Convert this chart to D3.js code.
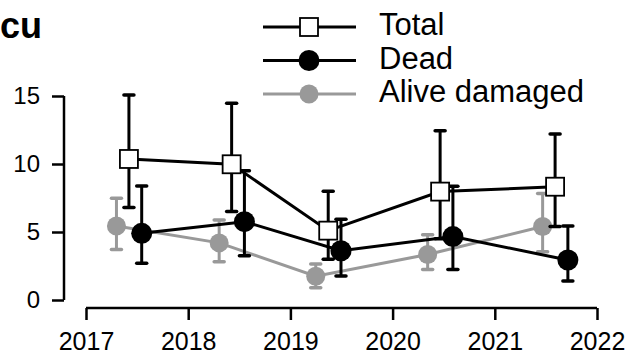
<!DOCTYPE html>
<html>
<head>
<meta charset="utf-8">
<script src="https://cdn.jsdelivr.net/npm/d3@7"></script>
<style>
  body { margin: 0; background: #fff; }
  svg { font-family: "Liberation Sans", Arial, sans-serif; }
</style>
</head>
<body>
<div class="plot"></div>
<script>
// survey dates (decimal year) and per-series dodge
let surveyDates = [2017.42, 2018.425, 2019.37, 2020.465, 2021.59];
let seriesNames = ["Total", "Dead", "Alive damaged"];
let dodge = [0, 0.125, -0.122];

let totalMean = [10.37, 9.98, 5.1, 7.97, 8.33];
let totalLow  = [6.8, 6.5, 3.0, 4.5, 5.4];
let totalHigh = [15.07, 14.46, 8.0, 12.45, 12.2];

let deadMean = [4.9, 5.76, 3.62, 4.66, 2.94];
let deadLow  = [2.7, 3.26, 1.76, 2.25, 1.4];
let deadHigh = [8.38, 9.5, 5.93, 8.36, 5.44];

let aliveMean = [5.44, 4.2, 1.75, 3.35, 5.4];
let aliveLow  = [3.72, 2.82, 0.9, 2.25, 3.55];
let aliveHigh = [7.48, 5.88, 2.65, 4.8, 7.84];

let xTicks = [2017, 2018, 2019, 2020, 2021, 2022];
let yTicks = [0, 5, 10, 15];

let width = 629, height = 359;
let grey = "#999999";

var xScale = d3.scaleLinear().domain([2017, 2022]).range([86, 597]),
    yScale = d3.scaleLinear().domain([0, 15]).range([300, 96]);

let svg = d3.select(".plot").append("svg")
    .attr("width", width)
    .attr("height", height);

function makeSeries(name, means, lows, highs, off, color, shape) {
    return {
        name: name, color: color, shape: shape,
        points: surveyDates.map((d, i) => ({x: d + off, y: means[i], lo: lows[i], hi: highs[i]}))
    };
}

let series = [
    makeSeries("Alive damaged", aliveMean, aliveLow, aliveHigh, dodge[2], grey, "circle"),
    makeSeries("Dead", deadMean, deadLow, deadHigh, dodge[1], "#000", "circle"),
    makeSeries("Total", totalMean, totalLow, totalHigh, dodge[0], "#000", "square")
];

// axes (R style, detached)
let xAxis = d3.axisBottom(xScale).tickValues(xTicks).tickFormat(d3.format("d"))
    .tickSize(12).tickPadding(12);
let gx = svg.append("g").attr("transform", "translate(0,308)").call(xAxis);
gx.select(".domain").attr("d", "M" + xScale(2017) + ",0H" + xScale(2022))
    .attr("stroke-width", 2.5).attr("stroke", "#000");
gx.selectAll(".tick line").attr("stroke-width", 2.5).attr("stroke", "#000");
gx.selectAll(".tick text").attr("font-size", 25).attr("fill", "#000")
    .attr("font-family", "Liberation Sans, Arial, sans-serif");

let yAxis = d3.axisLeft(yScale).tickValues(yTicks).tickSize(12).tickPadding(12);
let gy = svg.append("g").attr("transform", "translate(64,0)").call(yAxis);
gy.select(".domain").attr("d", "M0," + yScale(0) + "V" + yScale(15))
    .attr("stroke-width", 2.5).attr("stroke", "#000");
gy.selectAll(".tick line").attr("stroke-width", 2.5).attr("stroke", "#000");
gy.selectAll(".tick text").attr("font-size", 24).attr("fill", "#000")
    .attr("font-family", "Liberation Sans, Arial, sans-serif");

// series
let line = d3.line().x(d => xScale(d.x)).y(d => yScale(d.y));

function drawMarker(g, shape, color, cx, cy) {
    if (shape === "square") {
        g.append("rect")
            .attr("x", cx - 9).attr("y", cy - 9)
            .attr("width", 18).attr("height", 18)
            .attr("fill", "#fff").attr("stroke", "#000").attr("stroke-width", 1.8);
    } else {
        g.append("circle")
            .attr("cx", cx).attr("cy", cy)
            .attr("r", color === grey ? 9.5 : 10.5)
            .attr("fill", color);
    }
}

series.forEach(s => {
    let g = svg.append("g").attr("class", "series");
    g.append("path")
        .datum(s.points)
        .attr("d", line)
        .attr("fill", "none")
        .attr("stroke", s.color)
        .attr("stroke-width", 3);
    s.points.forEach(p => {
        let x = xScale(p.x);
        g.append("line")
            .attr("x1", x).attr("x2", x)
            .attr("y1", yScale(p.lo)).attr("y2", yScale(p.hi))
            .attr("stroke", s.color).attr("stroke-width", 3);
        [p.lo, p.hi].forEach(v => {
            g.append("line")
                .attr("x1", x - 5).attr("x2", x + 5)
                .attr("y1", yScale(v)).attr("y2", yScale(v))
                .attr("stroke", s.color).attr("stroke-width", 3.5)
                .attr("stroke-linecap", "round");
        });
    });
    s.points.forEach(p => drawMarker(g, s.shape, s.color, xScale(p.x), yScale(p.y)));
});

// legend
let legendItems = [
    {name: seriesNames[0], color: "#000", shape: "square"},
    {name: seriesNames[1], color: "#000", shape: "circle"},
    {name: seriesNames[2], color: grey, shape: "circle"}
];
let legend = svg.append("g").attr("class", "legend");
legendItems.forEach((item, i) => {
    let y = 27 + i * 33.5;
    legend.append("line")
        .attr("x1", 263).attr("x2", 356)
        .attr("y1", y).attr("y2", y)
        .attr("stroke", item.color).attr("stroke-width", 3);
    drawMarker(legend, item.shape, item.color, 309, y);
    legend.append("text")
        .attr("x", 379).attr("y", y + 8)
        .attr("font-size", 31)
        .text(item.name);
});

// title
svg.append("text")
    .attr("x", 0).attr("y", 38)
    .attr("font-size", 36)
    .attr("font-weight", "bold")
    .text("cu");
</script>
</body>
</html>
